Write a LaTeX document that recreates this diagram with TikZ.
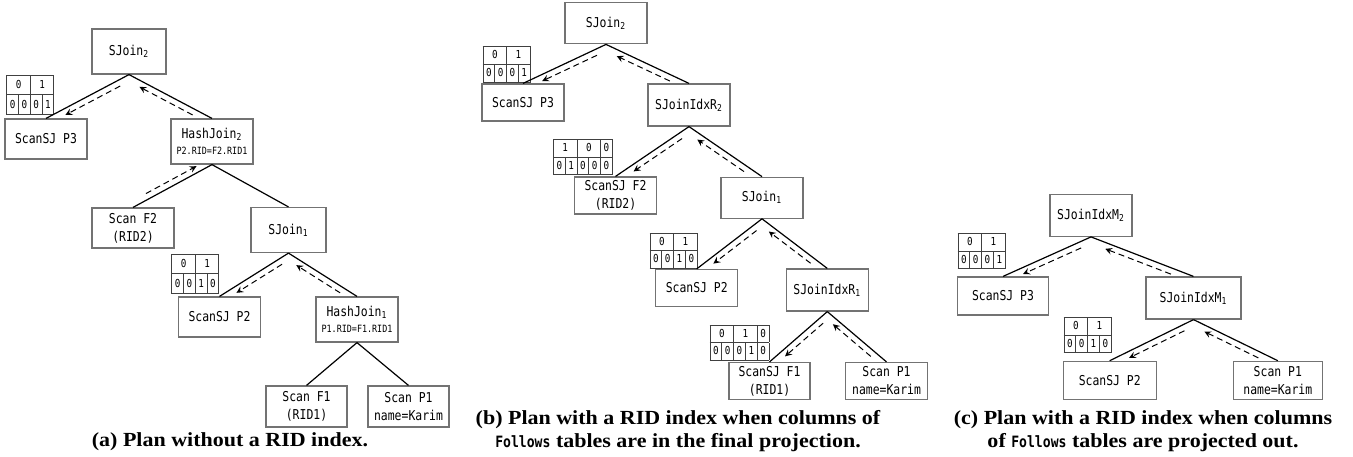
\documentclass[tikz,border=0pt]{standalone}
\usepackage{fontspec}
\setmainfont[FakeStretch=1.1]{Liberation Serif}
\setmonofont[FakeStretch=0.84]{DejaVu Sans Mono}
\usepackage{colortbl}
\usetikzlibrary{calc}

% bitmap tables
\setlength{\tabcolsep}{1.35pt}
\renewcommand{\arraystretch}{1.4}
\arrayrulecolor{black!75}
\newcommand{\twofour}[6]{\begin{tabular}{|c|c|c|c|}\hline
  \multicolumn{2}{|c|}{#1}&\multicolumn{2}{c|}{#2}\\\hline
  #3&#4&#5&#6\\\hline\end{tabular}}
\newcommand{\threefive}[8]{\begin{tabular}{|c|c|c|c|c|}\hline
  \multicolumn{2}{|c|}{#1}&\multicolumn{2}{c|}{#2}&#3\\\hline
  #4&#5&#6&#7&#8\\\hline\end{tabular}}
\newcommand{\relname}[1]{{\ttfamily\fontsize{7.8}{11.5}\selectfont #1}}
\newcommand{\pred}[1]{{\fontsize{5}{6}\selectfont #1}}

% dashed data flow next to an edge
\newcommand{\flowdown}[3]{\draw[flow]
  ($(#1.south)!0.14!(#2.north)!3pt!#3:(#2.north)$) --
  ($(#1.south)!0.8!(#2.north)!-3pt!#3:(#1.south)$);}
\newcommand{\flowup}[3]{\draw[flow]
  ($(#1.south)!0.8!(#2.north)!-3pt!#3:(#1.south)$) --
  ($(#1.south)!0.16!(#2.north)!3pt!#3:(#2.north)$);}

\tikzset{
  op/.style={draw=black!55, line width=0.6pt, minimum width=41pt,
    minimum height=20pt, inner sep=1pt, align=center,
    font=\ttfamily\fontsize{6.8}{9}\selectfont},
  bits/.style={inner sep=0pt, anchor=south west,
    font=\ttfamily\fontsize{5.5}{6}\selectfont},
  bits tall/.style={bits, execute at begin node={\renewcommand{\arraystretch}{1.55}}},
  edge/.style={line width=0.6pt},
  flow/.style={->, dash pattern=on 3pt off 2pt, line width=0.5pt},
  caption/.style={align=center, font=\fontsize{10}{11.5}\selectfont\bfseries},
}

\begin{document}
\begin{tikzpicture}[x=0.5pt, y=-0.5pt, >=stealth]
\useasboundingbox (0,0) rectangle (1353,456);

%% (a) hash joins, no index
\node[op, minimum width=37pt, minimum height=22.5pt] (sj2a) at (129,51.5) {SJoin\textsubscript{2}};
\node[op] (p3a) at (46,139) {ScanSJ P3};
\node[op, minimum height=22.5pt] (hj2) at (212,141.5) {HashJoin\textsubscript{2}\\[-1pt]\pred{P2.RID=F2.RID1}};
\node[op] (f2a) at (133,228) {Scan F2\\(RID2)};
\node[op, minimum width=37.5pt, minimum height=22.5pt] (sj1a) at (288.5,230) {SJoin\textsubscript{1}};
\node[op] (p2a) at (219.5,317) {ScanSJ P2};
\node[op, minimum height=22.5pt] (hj1) at (357,319.5) {HashJoin\textsubscript{1}\\[-1pt]\pred{P1.RID=F1.RID1}};
\node[op, minimum width=40.5pt, minimum height=20.5pt] (f1a) at (306.5,406.5) {Scan F1\\(RID1)};
\node[op, minimum width=40.5pt, minimum height=20.5pt] (p1a) at (408.5,406.5) {Scan P1\\name=Karim};

\node[bits tall] (ta1) at (6,115) {\twofour{0}{1}{0}{0}{0}{1}};
\node[bits tall] (ta2) at (171,294) {\twofour{0}{1}{0}{0}{1}{0}};

\draw[edge] (sj2a.south) -- (p3a.north);
\draw[edge] (sj2a.south) -- (hj2.north);
\draw[edge] (hj2.south) -- (f2a.north);
\draw[edge] (hj2.south) -- (sj1a.north);
\draw[edge] (sj1a.south) -- (p2a.north);
\draw[edge] (sj1a.south) -- (hj1.north);
\draw[edge] (hj1.south) -- (f1a.north);
\draw[edge] (hj1.south) -- (p1a.north);

\flowdown{sj2a}{p3a}{90}
\flowup{sj2a}{hj2}{-90}
\flowup{hj2}{f2a}{-90}
\flowdown{sj1a}{p2a}{90}
\flowup{sj1a}{hj1}{-90}

\node[caption] (capa) at (230,442) {(a) Plan without a RID index.};

%% (b) RID index, Follows columns kept
\node[op, minimum height=20.5pt] (sj2b) at (606,23.3) {SJoin\textsubscript{2}};
\node[op, minimum height=18.5pt] (p3b) at (523,102.5) {ScanSJ P3};
\node[op, minimum height=21pt] (ir2) at (689,105) {SJoinIdxR\textsubscript{2}};
\node[op, minimum height=18.5pt] (f2b) at (615.5,195.5) {ScanSJ F2\\(RID2)};
\node[op, minimum height=20.5pt] (sj1b) at (762,197.7) {SJoin\textsubscript{1}};
\node[op, minimum height=18.5pt] (p2b) at (696.7,288) {ScanSJ P2};
\node[op, minimum height=21pt] (ir1) at (827.3,290) {SJoinIdxR\textsubscript{1}};
\node[op, minimum width=40.5pt, minimum height=18.5pt] (f1b) at (769.5,381) {ScanSJ F1\\(RID1)};
\node[op, minimum height=18.5pt] (p1b) at (886.5,381) {Scan P1\\name=Karim};

\node[bits] (tb1) at (482.3,82.7) {\twofour{0}{1}{0}{0}{0}{1}};
\node[bits] (tb2) at (552.7,175.3) {\threefive{1}{0}{0}{0}{1}{0}{0}{0}};
\node[bits] (tb3) at (649.3,269) {\twofour{0}{1}{0}{0}{1}{0}};
\node[bits] (tb4) at (709.3,361) {\threefive{0}{1}{0}{0}{0}{0}{1}{0}};

\draw[edge] (sj2b.south) -- (p3b.north);
\draw[edge] (sj2b.south) -- (ir2.north);
\draw[edge] (ir2.south) -- (f2b.north);
\draw[edge] (ir2.south) -- (sj1b.north);
\draw[edge] (sj1b.south) -- (p2b.north);
\draw[edge] (sj1b.south) -- (ir1.north);
\draw[edge] (ir1.south) -- (f1b.north);
\draw[edge] (ir1.south) -- (p1b.north);

\flowdown{sj2b}{p3b}{90}
\flowup{sj2b}{ir2}{-90}
\flowdown{ir2}{f2b}{90}
\flowup{ir2}{sj1b}{-90}
\flowdown{sj1b}{p2b}{90}
\flowup{sj1b}{ir1}{-90}
\flowdown{ir1}{f1b}{90}
\flowup{ir1}{p1b}{-90}

\node[caption] (capb) at (678,431) {(b) Plan with a RID index when columns of\\\relname{Follows} tables are in the final projection.};

%% (c) RID index, Follows columns projected out
\node[op, minimum height=21pt] (im2) at (1091,215.3) {SJoinIdxM\textsubscript{2}};
\node[op, minimum width=45.5pt, minimum height=19pt] (p3c) at (1003,296) {ScanSJ P3};
\node[op, minimum width=47.5pt, minimum height=21pt] (im1) at (1193.5,298) {SJoinIdxM\textsubscript{1}};
\node[op, minimum width=46.5pt, minimum height=19pt] (p2c) at (1109.7,380.3) {ScanSJ P2};
\node[op, minimum width=44.5pt, minimum height=19pt] (p1c) at (1277.8,380.3) {Scan P1\\name=Karim};

\node[bits] (tc1) at (957.3,269.3) {\twofour{0}{1}{0}{0}{0}{1}};
\node[bits] (tc2) at (1063.3,353.3) {\twofour{0}{1}{0}{0}{1}{0}};

\draw[edge] (im2.south) -- (p3c.north);
\draw[edge] (im2.south) -- (im1.north);
\draw[edge] (im1.south) -- (p2c.north);
\draw[edge] (im1.south) -- (p1c.north);

\flowdown{im2}{p3c}{90}
\flowup{im2}{im1}{-90}
\flowdown{im1}{p2c}{90}
\flowup{im1}{p1c}{-90}

\node[caption] (capc) at (1143,431) {(c) Plan with a RID index when columns\\of \relname{Follows} tables are projected out.};
\end{tikzpicture}
\end{document}
